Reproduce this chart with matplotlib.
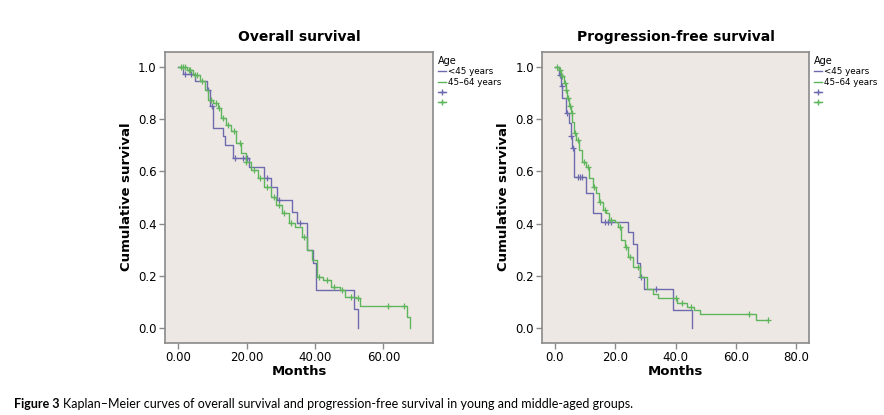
import numpy as np
import matplotlib
matplotlib.use("Agg")
import matplotlib.pyplot as plt
from matplotlib.lines import Line2D

# Overall survival, <45 years
os_young_t = [0, 1.5, 4.9, 8.3, 9.2, 10.2, 13.1, 13.6, 16.0, 20.8, 25.1, 27.0, 28.9,
              33.3, 34.7, 37.6, 39.5, 40.2, 51.5, 52.5]
os_young_s = [1.0, 0.97, 0.944, 0.912, 0.848, 0.765, 0.733, 0.701, 0.65, 0.617, 0.573,
              0.541, 0.49, 0.446, 0.401, 0.299, 0.248, 0.148, 0.075, 0.0]
os_young_cens = [1.8, 3.7, 8.8, 9.8, 16.5, 18.8, 19.9, 20.2, 26.0, 29.5, 35.5]

# Overall survival, 45-64 years
os_mid_t = [0, 2.5, 4.4, 6.3, 7.8, 8.75, 10.2, 11.6, 12.6, 14.0, 15.5, 16.9, 18.4, 19.8,
            21.3, 23.2, 25.1, 27.0, 28.5, 30.4, 32.3, 34.2, 36.2, 37.6, 39.1, 40.5, 42.4,
            44.8, 47.2, 48.7, 52.0, 53.0, 66.9, 67.9]
os_mid_s = [1.0, 0.988, 0.969, 0.944, 0.912, 0.874, 0.861, 0.842, 0.803, 0.778, 0.752,
            0.708, 0.669, 0.637, 0.605, 0.573, 0.541, 0.503, 0.471, 0.439, 0.401, 0.388,
            0.35, 0.299, 0.261, 0.197, 0.184, 0.158, 0.146, 0.12, 0.114, 0.084, 0.043, 0.0]
os_mid_cens = [0.8, 1.5, 2.0, 3.0, 3.5, 5.0, 5.5, 7.0, 9.5, 11.0, 12.0, 13.2, 14.5, 16.2,
               18.0, 19.9, 22.0, 24.0, 26.0, 28.0, 29.5, 31.0, 33.0, 36.8, 41.0, 43.5,
               45.5, 47.8, 50.5, 52.5, 61.2, 66.0]

# Progression-free survival, <45 years
pfs_young_t = [0, 1.34, 1.9, 2.46, 3.57, 4.69, 5.25, 5.8, 6.36, 10.3, 12.7, 15.3, 24.2,
               25.9, 27.2, 28.1, 29.5, 39.0, 45.6]
pfs_young_s = [1.0, 0.969, 0.925, 0.88, 0.822, 0.784, 0.733, 0.688, 0.577, 0.516, 0.439,
               0.407, 0.369, 0.324, 0.248, 0.197, 0.152, 0.071, 0.0]
pfs_young_cens = [1.6, 2.2, 3.9, 5.5, 6.0, 7.5, 8.2, 9.0, 16.5, 17.5, 18.5, 28.5, 33.5]

# Progression-free survival, 45-64 years
pfs_mid_t = [0, 1.34, 1.9, 3.0, 3.57, 4.13, 4.69, 5.25, 5.8, 6.36, 6.92, 8.04, 9.15, 10.3,
             11.4, 12.5, 13.6, 14.7, 15.9, 17.0, 18.1, 19.8, 20.9, 22.0, 23.1, 24.2, 25.9,
             28.1, 30.4, 32.6, 34.3, 40.4, 43.8, 46.0, 48.2, 66.7]
pfs_mid_s = [1.0, 0.988, 0.963, 0.937, 0.912, 0.88, 0.848, 0.822, 0.79, 0.746, 0.72, 0.682,
             0.637, 0.618, 0.573, 0.541, 0.516, 0.484, 0.452, 0.439, 0.414, 0.407, 0.388,
             0.337, 0.312, 0.273, 0.235, 0.197, 0.152, 0.133, 0.114, 0.095, 0.082, 0.069,
             0.056, 0.031]
pfs_mid_cens = [0.8, 1.6, 2.5, 3.3, 3.8, 4.4, 5.0, 5.6, 6.6, 7.5, 9.8, 11.0, 13.0, 15.0,
                16.5, 18.5, 21.5, 23.5, 25.0, 27.5, 40.0, 42.0, 45.0, 64.5, 70.6]

groups = ["<45 years", "45\u201364 years"]
col_young = "#6e6aae"
col_mid = "#5fb55c"
bg = "#ede8e4"
frame = "#8a8a8a"


def surv_at(t_events, s_events, t):
    idx = np.searchsorted(t_events, t, side="right") - 1
    return np.asarray(s_events)[idx]


def km_panel(ax, data, xlim, xticks, xfmt, title):
    ax.set_facecolor(bg)
    for t, s, cens, c in data:
        end = max(max(t), max(cens))
        tt = list(t) + [end]
        ss = list(s) + [s[-1]]
        ax.step(tt, ss, where="post", color=c, lw=1.0)
        ax.plot(cens, surv_at(t, s, cens), ls="none", marker="+", ms=4, mew=0.9, color=c)
    ax.set_xlim(*xlim)
    ax.set_ylim(-0.055, 1.057)
    ax.set_xticks(xticks)
    ax.set_xticklabels([xfmt.format(v) for v in xticks])
    ax.set_yticks([0, 0.2, 0.4, 0.6, 0.8, 1.0])
    ax.set_yticklabels(["0.0", "0.2", "0.4", "0.6", "0.8", "1.0"])
    for sp in ax.spines.values():
        sp.set_color(frame)
        sp.set_linewidth(1.2)
    ax.tick_params(direction="out", length=4, width=1, color=frame, labelsize=8.5,
                   pad=2)
    ax.set_title(title, fontsize=10, fontweight="bold", pad=8)
    ax.set_xlabel("Months", fontsize=9.5, fontweight="bold", labelpad=1)
    ax.set_ylabel("Cumulative survival", fontsize=9.5, fontweight="bold", labelpad=4)

    handles = [
        Line2D([], [], color=col_young, lw=1.0),
        Line2D([], [], color=col_mid, lw=1.0),
        Line2D([], [], color=col_young, lw=1.0, marker="+", ms=4),
        Line2D([], [], color=col_mid, lw=1.0, marker="+", ms=4),
    ]
    leg = ax.legend(handles, groups + ["", ""], title="Age", loc="upper left",
                    bbox_to_anchor=(1.0, 1.0), frameon=False, fontsize=6.3,
                    title_fontsize=7, handlelength=0.9, handletextpad=0.3,
                    labelspacing=0.15, borderaxespad=0.2, borderpad=0.3)
    leg._legend_box.align = "left"


fig = plt.figure(figsize=(8.84, 4.15), dpi=100)
ax1 = fig.add_axes([0.1867, 0.1742, 0.3035, 0.7013])
ax2 = fig.add_axes([0.6134, 0.1742, 0.3022, 0.7013])

km_panel(ax1, [(os_young_t, os_young_s, os_young_cens, col_young),
               (os_mid_t, os_mid_s, os_mid_cens, col_mid)],
         (-3.9, 74.6), [0, 20, 40, 60], "{:.2f}", "Overall survival")
km_panel(ax2, [(pfs_young_t, pfs_young_s, pfs_young_cens, col_young),
               (pfs_mid_t, pfs_mid_s, pfs_mid_cens, col_mid)],
         (-4.2, 84.4), [0, 20, 40, 60, 80], "{:.1f}", "Progression-free survival")

fig.text(0.016, 0.018, "Figure 3", fontsize=9, fontweight="bold", family="Lato")
fig.text(0.071, 0.018, "Kaplan\u2013Meier curves of overall survival and progression-free "
         "survival in young and middle-aged groups.", fontsize=9, family="Lato")

fig.savefig("out.png", dpi=100)
